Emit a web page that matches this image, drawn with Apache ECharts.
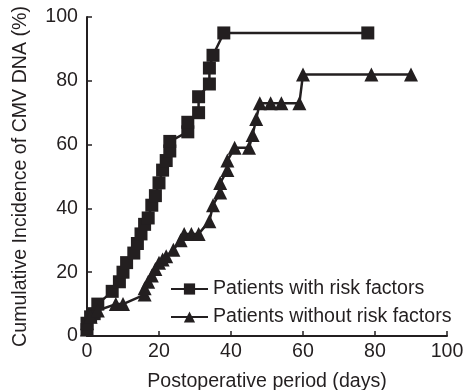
<!DOCTYPE html>
<html>
<head>
<meta charset="utf-8">
<script src="https://cdn.jsdelivr.net/npm/echarts@6/dist/echarts.min.js"></script>
<style>
  html, body { margin: 0; padding: 0; background: #fff; }
  #chart { width: 466px; height: 390px; }
</style>
</head>
<body>
<div id="chart"></div>
<script>
// day, cumulative incidence (%)
const withRisk = [
  [0, 2], [0, 4], [1, 6], [2, 7], [3, 10], [7, 14], [9, 17], [10, 20], [11, 23],
  [13, 26], [14, 29], [15, 32], [16, 35], [17, 37], [18, 41], [19, 44], [20, 48],
  [21, 52], [22, 55], [23, 58], [23, 61], [28, 64], [28, 67], [31, 70], [31, 75],
  [34, 79], [34, 84], [35, 88], [38, 95], [78, 95]
]
const withoutRisk = [
  [0, 2], [0, 4], [1, 6], [3, 8], [8, 10], [10, 10], [16, 13], [16, 15], [17, 17],
  [18, 19], [19, 21], [20, 23], [21, 24], [22, 25], [24, 27], [26, 30], [27, 32],
  [29, 32], [31, 32], [34, 36], [35, 41], [37, 45], [37, 48], [39, 52], [39, 55],
  [41, 59], [45, 59], [46, 63], [47, 68], [48, 73], [51, 73], [54, 73], [59, 73],
  [60, 82], [79, 82], [90, 82]
]
const seriesNames = ['Patients with risk factors', 'Patients without risk factors']

const ink = '#231f20'
const font = 'Liberation Sans, Arial, sans-serif'
const fs = 19.6

const chart = echarts.init(document.getElementById('chart'))
chart.setOption({
  animation: false,
  textStyle: { fontFamily: font },
  grid: { left: 87, right: 19, top: 17, bottom: 54, outerBoundsMode: 'none', containLabel: false },
  legend: {
    orient: 'vertical',
    left: 170,
    top: 279,
    padding: 0,
    itemWidth: 37,
    itemHeight: 14,
    itemGap: 8,
    textStyle: { fontSize: fs, color: ink, fontFamily: font },
    data: seriesNames
  },
  xAxis: {
    type: 'value',
    min: 0,
    max: 100,
    interval: 20,
    name: 'Postoperative period (days)',
    nameLocation: 'middle',
    nameGap: 36,
    nameTextStyle: { fontSize: fs, color: ink },
    axisLine: { lineStyle: { color: ink, width: 2 } },
    axisTick: { inside: true, length: 5, lineStyle: { color: ink, width: 1.5 } },
    axisLabel: { fontSize: fs, color: ink, margin: 6 },
    splitLine: { show: false }
  },
  yAxis: {
    type: 'value',
    min: 0,
    max: 100,
    interval: 20,
    name: 'Cumulative Incidence of CMV DNA (%)',
    nameLocation: 'middle',
    nameGap: 56,
    nameTextStyle: { fontSize: fs, color: ink },
    axisLine: { show: true, lineStyle: { color: ink, width: 2 } },
    axisTick: { show: true, inside: true, length: 5, lineStyle: { color: ink, width: 1.5 } },
    axisLabel: { fontSize: fs, color: ink, margin: 9 },
    splitLine: { show: false }
  },
  series: [
    {
      name: seriesNames[0],
      type: 'line',
      data: withRisk,
      symbol: 'rect',
      symbolSize: 13,
      itemStyle: { color: ink },
      lineStyle: { color: ink, width: 2.5 }
    },
    {
      name: seriesNames[1],
      type: 'line',
      data: withoutRisk,
      symbol: 'triangle',
      symbolSize: 14,
      itemStyle: { color: ink },
      lineStyle: { color: ink, width: 2.5 }
    }
  ]
})
</script>
</body>
</html>
